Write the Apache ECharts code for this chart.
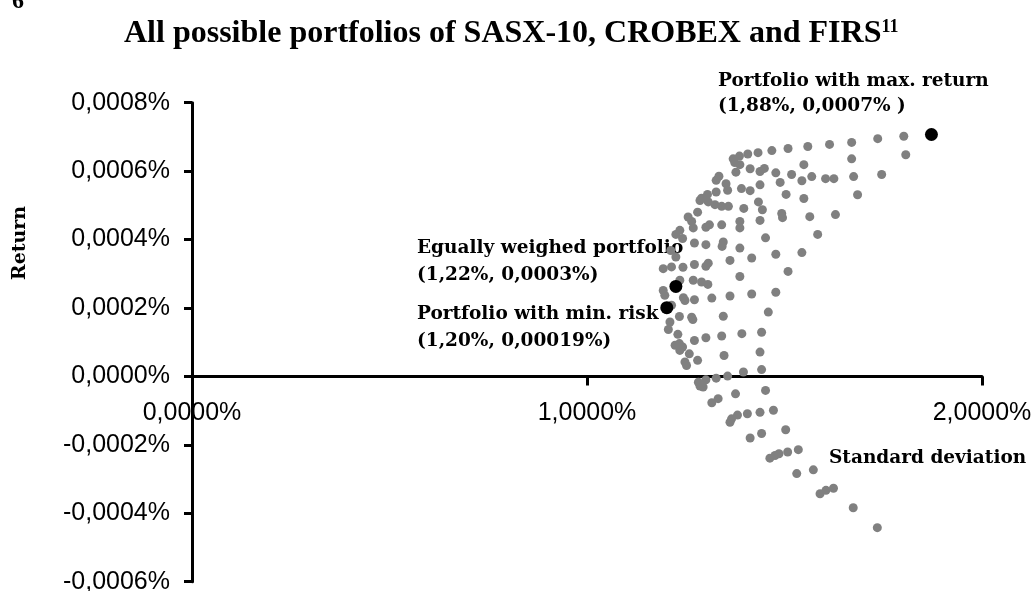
<!DOCTYPE html>
<html>
<head>
<meta charset="utf-8">
<title>All possible portfolios</title>
<script src="https://cdn.jsdelivr.net/npm/echarts@6/dist/echarts.min.js"></script>
<style>
  html, body { margin: 0; padding: 0; background: #fff; }
  #chart { width: 1034px; height: 591px; }
</style>
</head>
<body>
<div id="chart"></div>
<script>
// standard deviation (%) and return (%) of every portfolio
const stdDev = [
  1.802, 1.736, 1.670, 1.614, 1.559, 1.509, 1.468, 1.433, 1.407, 1.386,
  1.370, 1.374, 1.387, 1.377, 1.413, 1.438, 1.449, 1.478, 1.518, 1.549,
  1.670, 1.807, 1.746, 1.675, 1.625, 1.604, 1.569, 1.544, 1.489, 1.334,
  1.327, 1.352, 1.356, 1.391, 1.413, 1.438, 1.504, 1.549, 1.685, 1.327,
  1.305, 1.290, 1.286, 1.307, 1.324, 1.341, 1.358, 1.397, 1.434, 1.444,
  1.493, 1.495, 1.564, 1.629, 1.584, 1.544, 1.280, 1.256, 1.265, 1.310,
  1.301, 1.341, 1.387, 1.387, 1.438, 1.269, 1.235, 1.225, 1.242, 1.272,
  1.301, 1.345, 1.342, 1.387, 1.452, 1.478, 1.212, 1.225, 1.272, 1.307,
  1.301, 1.362, 1.417, 1.214, 1.193, 1.243, 1.509, 1.387, 1.235, 1.269,
  1.290, 1.306, 1.193, 1.197, 1.244, 1.248, 1.272, 1.316, 1.362, 1.417,
  1.478, 1.214, 1.234, 1.265, 1.268, 1.345, 1.459, 1.210, 1.206, 1.230,
  1.272, 1.301, 1.341, 1.392, 1.442, 1.223, 1.234, 1.242, 1.235, 1.259,
  1.347, 1.438, 1.248, 1.252, 1.280, 1.396, 1.442, 1.356, 1.327, 1.301,
  1.282, 1.286, 1.294, 1.376, 1.452, 1.332, 1.316, 1.381, 1.406, 1.438,
  1.472, 1.362, 1.366, 1.413, 1.442, 1.503, 1.463, 1.476, 1.486, 1.508,
  1.535, 1.531, 1.573, 1.590, 1.605, 1.624, 1.674, 1.735
];
const returns = [
  0.000702, 0.000695, 0.000684, 0.000678, 0.000672, 0.000666, 0.000660, 0.000654, 0.000650, 0.000644,
  0.000636, 0.000625, 0.000619, 0.000597, 0.000607, 0.000599, 0.000608, 0.000595, 0.000590, 0.000619,
  0.000636, 0.000648, 0.000590, 0.000584, 0.000578, 0.000578, 0.000584, 0.000572, 0.000567, 0.000585,
  0.000573, 0.000563, 0.000544, 0.000549, 0.000543, 0.000560, 0.000532, 0.000520, 0.000531, 0.000539,
  0.000532, 0.000521, 0.000514, 0.000510, 0.000502, 0.000497, 0.000497, 0.000491, 0.000510, 0.000487,
  0.000476, 0.000464, 0.000467, 0.000473, 0.000415, 0.000362, 0.000480, 0.000466, 0.000453, 0.000443,
  0.000436, 0.000443, 0.000453, 0.000434, 0.000456, 0.000434, 0.000427, 0.000415, 0.000403, 0.000390,
  0.000385, 0.000393, 0.000380, 0.000375, 0.000405, 0.000357, 0.000368, 0.000349, 0.000327, 0.000331,
  0.000322, 0.000339, 0.000346, 0.000320, 0.000315, 0.000319, 0.000307, 0.000292, 0.000281, 0.000281,
  0.000276, 0.000269, 0.000251, 0.000237, 0.000230, 0.000222, 0.000224, 0.000229, 0.000235, 0.000241,
  0.000246, 0.000208, 0.000175, 0.000173, 0.000166, 0.000176, 0.000188, 0.000159, 0.000137, 0.000123,
  0.000105, 0.000113, 0.000118, 0.000125, 0.000129, 0.000091, 0.000096, 0.000086, 0.000076, 0.000066,
  0.000061, 0.000071, 0.000042, 0.000032, 0.000047, 0.000013, 0.000020, 0.000001, -0.000005, -0.000010,
  -0.000017, -0.000028, -0.000031, -0.000051, -0.000041, -0.000065, -0.000077, -0.000113, -0.000109, -0.000105,
  -0.000099, -0.000134, -0.000124, -0.000180, -0.000167, -0.000156, -0.000239, -0.000231, -0.000226, -0.000221,
  -0.000214, -0.000284, -0.000273, -0.000343, -0.000333, -0.000327, -0.000384, -0.000442
];

// highlighted portfolios: max return, equally weighted, min risk
const specialNames = ['max. return', 'equally weighed', 'min. risk'];
const specialStd = [1.872, 1.225, 1.202];
const specialRet = [0.000707, 0.000263, 0.000201];

const xTicks = { min: 0, max: 2, interval: 1 };
const yTicks = { min: -0.0006, max: 0.0008, interval: 0.0002 };

const pctLabel = v => v.toFixed(4).replace('.', ',') + '%';

// grid box in pixels
const gridTop = 102.7;
const gridBottom = 9.3;
const gridHeight = 591 - gridTop - gridBottom;
// the x axis sits on return = 0, not on the bottom edge
const xAxisShift = -gridHeight * (0 - yTicks.min) / (yTicks.max - yTicks.min);

const chart = echarts.init(document.getElementById('chart'));

const annFont = 'bold 18.5px "DejaVu Serif"';

chart.setOption({
  animation: false,
  backgroundColor: '#fff',
  title: {
    text: '{a|All possible portfolios of SASX-10, CROBEX and FIRS}{b|11}',
    left: 124,
    top: 18,
    padding: 0,
    textStyle: {
      rich: {
        a: { fontFamily: 'Liberation Serif', fontWeight: 'bold', fontSize: 32, color: '#000' },
        b: { fontFamily: 'Liberation Serif', fontWeight: 'bold', fontSize: 18, color: '#000', verticalAlign: 'top', padding: [0, 0, 14, 0] }
      }
    }
  },
  grid: { left: 192, right: 52, top: gridTop, bottom: gridBottom, outerBoundsMode: 'none' },
  xAxis: {
    type: 'value',
    min: xTicks.min,
    max: xTicks.max,
    interval: xTicks.interval,
    position: 'bottom',
    offset: xAxisShift,
    axisLine: { onZero: false, lineStyle: { color: '#000', width: 3 } },
    axisTick: { show: true, length: 9, lineStyle: { color: '#000', width: 3 } },
    axisLabel: {
      margin: 24,
      color: '#000',
      fontFamily: 'Liberation Sans',
      fontSize: 25,
      formatter: pctLabel
    },
    splitLine: { show: false }
  },
  yAxis: {
    type: 'value',
    min: yTicks.min,
    max: yTicks.max,
    interval: yTicks.interval,
    axisLine: { show: true, onZero: false, lineStyle: { color: '#000', width: 3 } },
    axisTick: { show: true, length: 8, lineStyle: { color: '#000', width: 3 } },
    axisLabel: {
      margin: 22,
      color: '#000',
      fontFamily: 'Liberation Sans',
      fontSize: 25,
      formatter: pctLabel
    },
    splitLine: { show: false }
  },
  series: [
    {
      name: 'portfolios',
      type: 'scatter',
      symbolSize: 9,
      itemStyle: { color: '#808080', opacity: 1 },
      data: stdDev.map((x, i) => [x, returns[i]])
    },
    {
      name: 'highlighted',
      type: 'scatter',
      symbolSize: 13,
      itemStyle: { color: '#000', opacity: 1 },
      data: specialStd.map((x, i) => ({ name: specialNames[i], value: [x, specialRet[i]] }))
    }
  ],
  graphic: [
    { type: 'text', left: 12, top: -10, style: { text: '6', font: 'bold 24px "Liberation Serif"', fill: '#000' } },
    { type: 'text', x: 20, y: 243, rotation: Math.PI / 2,
      style: { text: 'Return', font: 'bold 19px "DejaVu Serif"', fill: '#000', align: 'center', verticalAlign: 'middle' } },
    { type: 'text', x: 718, y: 81, style: { text: 'Portfolio with max. return', font: annFont, fill: '#000', verticalAlign: 'middle' } },
    { type: 'text', x: 718, y: 106, style: { text: '(1,88%, 0,0007% )', font: annFont, fill: '#000', verticalAlign: 'middle' } },
    { type: 'text', x: 417, y: 248, style: { text: 'Egually weighed portfolio', font: annFont, fill: '#000', verticalAlign: 'middle' } },
    { type: 'text', x: 417, y: 275, style: { text: '(1,22%, 0,0003%)', font: annFont, fill: '#000', verticalAlign: 'middle' } },
    { type: 'text', x: 417, y: 314, style: { text: 'Portfolio with min. risk', font: annFont, fill: '#000', verticalAlign: 'middle' } },
    { type: 'text', x: 417, y: 341, style: { text: '(1,20%, 0,00019%)', font: annFont, fill: '#000', verticalAlign: 'middle' } },
    { type: 'text', x: 829, y: 458, style: { text: 'Standard deviation', font: annFont, fill: '#000', verticalAlign: 'middle' } }
  ]
});
</script>
</body>
</html>
